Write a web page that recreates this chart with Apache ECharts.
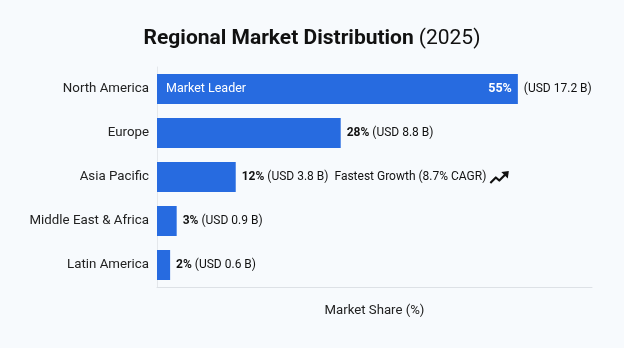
<!DOCTYPE html>
<html>
<head>
<meta charset="utf-8">
<script src="https://cdn.jsdelivr.net/npm/echarts@6/dist/echarts.min.js"></script>
<style>
html,body{margin:0;padding:0;background:#f7fafd;}
#c{width:624px;height:348px;}
</style>
</head>
<body>
<div id="c"></div>
<script>
const regions = ['North America', 'Europe', 'Asia Pacific', 'Middle East & Africa', 'Latin America'];
const shares = [55, 28, 12, 3, 2];
const usdBillions = ['17.2', '8.8', '3.8', '0.9', '0.6'];
const notes = ['Market Leader', '', 'Fastest Growth (8.7% CAGR)', '', ''];

const iconSvg = 'data:image/svg+xml;utf8,' + encodeURIComponent(
  '<svg xmlns="http://www.w3.org/2000/svg" width="20" height="14" viewBox="0 0 20 14">' +
  '<polyline points="1,13 6.5,7.5 10,10.5 16.5,4" fill="none" stroke="#111" stroke-width="2.2" stroke-linejoin="round"/>' +
  '<polygon points="19.5,1 12,2 18.5,8.5" fill="#111"/></svg>');

const chart = echarts.init(document.getElementById('c'));
const blue = '#276be0';
const font = 'Roboto, "Noto Sans", sans-serif';

const mainData = shares.map((v, i) => {
  let fmt;
  if (i === 0) {
    fmt = '(USD ' + usdBillions[i] + ' B)';
  } else if (notes[i]) {
    fmt = '{b|' + v + '%} (USD ' + usdBillions[i] + ' B)  ' + notes[i] + ' {icon|}';
  } else {
    fmt = '{b|' + v + '%} (USD ' + usdBillions[i] + ' B)';
  }
  return { value: v, label: { formatter: fmt } };
});
const leftData = shares.map((v, i) => ({
  value: v,
  label: i === 0 ? { show: true, position: 'insideLeft', distance: 9, formatter: notes[0], color: '#fff', fontSize: 12.5, fontFamily: font } : { show: false }
}));
const rightData = shares.map((v, i) => ({
  value: v,
  label: i === 0 ? { show: true, position: 'insideRight', distance: 6, formatter: v + '%', color: '#fff', fontSize: 12.5, fontWeight: 'bold', fontFamily: font } : { show: false }
}));

chart.setOption({
  backgroundColor: '#f7fafd',
  animation: false,
  title: {
    text: '{t|Regional Market Distribution} {n|(2025)}',
    left: 'center',
    top: 23,
    textStyle: {
      rich: {
        t: { fontSize: 21, fontWeight: 'bold', color: '#111', fontFamily: font },
        n: { fontSize: 21, fontWeight: 'normal', color: '#111', fontFamily: font }
      }
    }
  },
  grid: { left: 157, right: 32, top: 67, bottom: 61, containLabel: false },
  xAxis: {
    type: 'value', min: 0, max: 66.3,
    splitLine: { show: false },
    axisLabel: { show: false },
    axisTick: { show: false },
    axisLine: { show: true, lineStyle: { color: '#dde1e6', width: 1 } },
    name: 'Market Share (%)',
    nameLocation: 'middle',
    nameGap: 17,
    nameTextStyle: { fontSize: 13.2, color: '#222', fontFamily: font }
  },
  yAxis: {
    type: 'category', data: regions, inverse: true,
    axisTick: { show: false },
    axisLine: { show: true, lineStyle: { color: '#e4e7eb', width: 1 } },
    axisLabel: { fontSize: 13.3, color: '#222', margin: 8, fontFamily: font }
  },
  series: [
    {
      type: 'bar', data: mainData, barWidth: 30,
      itemStyle: { color: blue },
      label: {
        show: true, position: 'right', distance: 6,
        color: '#111', fontSize: 12, fontFamily: font,
        rich: {
          b: { fontWeight: 'bold', fontSize: 12, color: '#111', fontFamily: font },
          icon: { width: 20, height: 14, backgroundColor: { image: iconSvg } }
        }
      }
    },
    { type: 'bar', data: leftData, barWidth: 30, barGap: '-100%', itemStyle: { color: 'rgba(0,0,0,0)' }, silent: true },
    { type: 'bar', data: rightData, barWidth: 30, barGap: '-100%', itemStyle: { color: 'rgba(0,0,0,0)' }, silent: true }
  ]
});
</script>
</body>
</html>
